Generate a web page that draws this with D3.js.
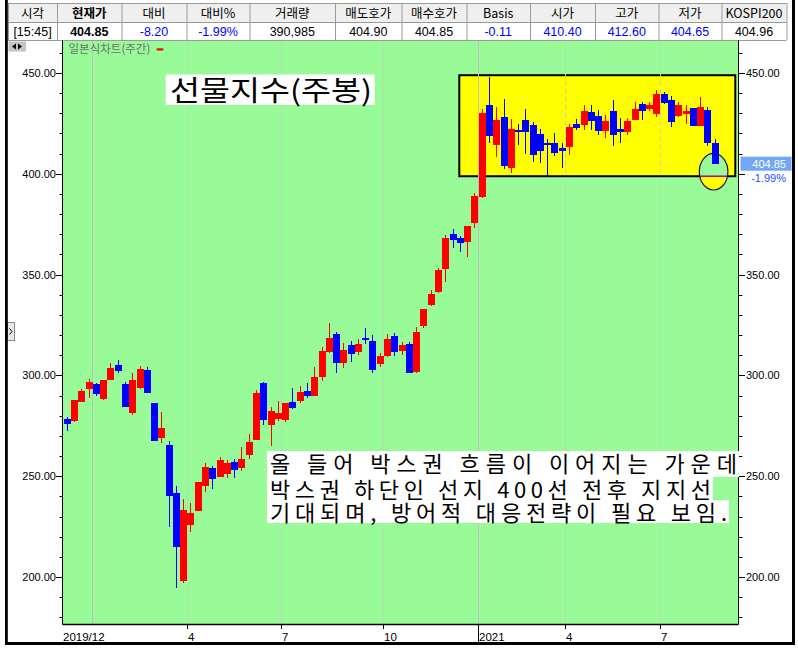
<!DOCTYPE html>
<html><head><meta charset="utf-8">
<script src="https://cdn.jsdelivr.net/npm/d3@7"></script>
<style>body{margin:0;background:#fff}svg{display:block}</style>
</head><body><svg id="c" width="798" height="650"></svg>
<script>
// ---- data ----
const dates = [
"2019-12-02","2019-12-09","2019-12-16","2019-12-23","2019-12-30",
"2020-01-06","2020-01-13","2020-01-20","2020-01-27","2020-02-03","2020-02-10","2020-02-17","2020-02-24",
"2020-03-02","2020-03-09","2020-03-16","2020-03-23","2020-03-30","2020-04-06","2020-04-13","2020-04-20","2020-04-27",
"2020-05-04","2020-05-11","2020-05-18","2020-05-25","2020-06-01","2020-06-08","2020-06-15","2020-06-22","2020-06-29",
"2020-07-06","2020-07-13","2020-07-20","2020-07-27","2020-08-03","2020-08-10","2020-08-17","2020-08-24","2020-08-31",
"2020-09-07","2020-09-14","2020-09-21","2020-09-28","2020-10-05","2020-10-12","2020-10-19","2020-10-26","2020-11-02",
"2020-11-09","2020-11-16","2020-11-23","2020-11-30","2020-12-07","2020-12-14","2020-12-21","2020-12-28",
"2021-01-04","2021-01-11","2021-01-18","2021-01-25","2021-02-01","2021-02-08","2021-02-15","2021-02-22",
"2021-03-01","2021-03-08","2021-03-15","2021-03-22","2021-03-29","2021-04-05","2021-04-12","2021-04-19","2021-04-26",
"2021-05-03","2021-05-10","2021-05-17","2021-05-24","2021-05-31","2021-06-07","2021-06-14","2021-06-21","2021-06-28",
"2021-07-05","2021-07-12","2021-07-19","2021-07-26","2021-08-02","2021-08-09","2021-08-16"];
const open = [278.4,277.4,287.0,293.4,295.7,288.3,297.7,305.2,295.7,281.5,
 293.9,302.7,286.3,269.0,265.5,241.7,198.0,226.0,232.9,245.3,
 253.9,249.8,251.1,257.0,254.1,260.5,268.0,296.2,275.6,278.5,
 277.9,286.8,287.5,292.3,289.8,299.2,311.6,320.5,306.1,315.1,
 311.6,318.5,317.1,305.7,309.6,319.5,312.1,315.6,301.7,324.5,
 334.9,341.4,352.9,370.1,368.1,366.2,375.8,388.6,434.1,414.4,
 428.2,403.0,421.7,426.7,424.2,419.7,415.3,415.3,412.8,413.4,
 424.7,424.4,430.6,428.7,421.2,431.1,422.2,420.7,426.7,434.8,
 432.1,429.7,439.6,436.8,428.8,429.7,432.8,423.7,431.6,415.3];
const high = [279.5,287.8,293.3,298.2,296.4,297.7,306.2,307.6,296.7,301.2,
 304.7,304.0,286.3,281.8,267.3,245.1,238.7,236.7,247.1,256.5,
 255.1,259.5,258.0,258.5,264.5,270.9,292.8,296.7,284.3,287.3,
 286.3,293.7,294.7,296.2,304.2,314.1,326.0,321.5,316.1,317.1,
 318.1,323.5,320.0,311.1,320.5,321.0,316.6,316.6,324.0,332.9,
 342.4,353.3,369.6,372.6,369.1,374.1,390.5,432.1,448.0,433.1,
 437.1,427.2,424.7,432.1,425.7,422.2,417.3,420.2,415.3,424.7,
 427.2,434.1,434.1,431.6,429.0,436.6,427.7,427.7,435.6,435.6,
 435.6,441.6,440.6,438.6,435.6,434.1,432.8,438.1,433.1,417.3];
const low = [272.6,276.9,287.0,289.0,289.9,287.8,297.7,301.4,284.5,280.5,
 293.3,291.4,267.6,266.3,225.0,194.7,197.2,222.5,232.9,242.3,
 243.8,249.8,249.3,249.3,252.6,258.5,268.0,275.4,265.1,277.5,
 276.9,283.3,286.5,288.8,289.8,297.2,311.1,301.2,303.7,306.6,
 310.1,315.6,301.2,304.2,309.1,309.6,310.1,301.2,301.2,323.5,
 334.4,340.7,346.5,363.3,361.3,358.9,373.3,388.2,415.4,408.5,
 402.5,400.6,414.4,409.8,406.0,405.5,398.6,409.0,403.0,409.5,
 421.7,421.7,421.7,419.0,418.0,413.8,415.3,419.2,426.7,426.7,
 431.1,428.3,434.6,423.2,428.3,424.7,423.7,423.7,413.8,404.65];
const close = [276.1,287.8,292.3,296.7,290.9,297.7,303.7,302.4,284.5,297.7,
 303.2,291.4,267.6,273.9,240.3,215.0,233.2,231.7,247.1,254.4,
 248.8,258.0,256.5,253.2,258.5,267.0,291.3,277.9,282.3,281.4,
 286.3,283.8,291.8,289.8,299.2,312.1,318.5,306.1,312.6,310.6,
 315.6,318.0,302.7,309.6,318.1,311.6,315.1,301.2,321.5,332.9,
 340.4,352.3,368.1,367.2,365.8,374.1,389.0,430.1,418.9,426.7,
 404.0,422.2,420.9,420.9,409.5,411.5,414.4,410.5,411.5,423.2,
 422.7,431.1,426.2,421.2,426.2,419.3,420.7,426.2,432.1,431.1,
 434.1,439.6,435.1,425.7,434.1,431.1,423.7,433.1,415.4,404.85];

const gridDates = ["2019-12-30","2020-03-30","2020-06-29","2020-10-05","2021-01-04","2021-03-29","2021-06-28"];
const gridSolid = [true,false,false,false,true,false,false];
const xTickDates = ["2019-12-02","2020-03-30","2020-06-29","2020-10-05","2021-01-04","2021-03-29","2021-06-28"];
const xTickLabels = ["2019/12","4","7","10","2021","4","7"];
const yLabelTicks = [200,250,300,350,400,450];

const headLabels = ["시각","현재가","대비","대비%","거래량","매도호가","매수호가","Basis","시가","고가","저가","KOSPI200"];
const headValues = ["[15:45]","404.85","-8.20","-1.99%","390,985","404.90","404.85","-0.11","410.40","412.60","404.65","404.96"];
const headValueBlue = [false,false,true,true,false,false,false,true,true,true,true,false];

const titleText = "선물지수(주봉)";
const noteLines = ["올 들어 박스권 흐름이 이어지는 가운데","박스권 하단인 선지 400선 전후 지지선","기대되며, 방어적 대응전략이 필요 보임."];
const lastPrice = "404.85", lastPct = "-1.99%";
const boxRange = {hi:448.9, lo:398.8};

// ---- drawing ----
const svg = d3.select("#c");
const PL=62.5, PR=738.5, PT=40, PB=624;
const x = d3.scaleBand().domain(dates).range([63.06, 63.06+7.28*dates.length]).padding(0);
const y = d3.scaleLinear().domain([200,450]).range([577,73]);
const bw = x.bandwidth();
const cx = d => x(d)+bw/2;
const KR = "'Noto Sans CJK KR', 'Noto Sans', sans-serif";
const NUM = "'Liberation Sans', Arial, sans-serif";

svg.append("rect").attr("width",798).attr("height",650).attr("fill","#fff");

// header table
const cols=[8,57,121.5,186.5,249.5,335,401.5,466.5,530,595,658.5,721.5,786.5];
const hd = svg.append("g");
hd.append("rect").attr("x",8).attr("y",3).attr("width",778.5).attr("height",19).attr("fill","#efefef");
hd.append("rect").attr("x",8).attr("y",22).attr("width",778.5).attr("height",18).attr("fill","#fff");
[3,22,40].forEach(yy=>hd.append("line").attr("x1",8).attr("x2",786.5).attr("y1",yy+0.5).attr("y2",yy+0.5).attr("stroke","#9a9a9a"));
cols.forEach(cc=>hd.append("line").attr("x1",cc+0.5).attr("x2",cc+0.5).attr("y1",3).attr("y2",40).attr("stroke","#9a9a9a"));
headLabels.forEach((t,i)=>{
  hd.append("text").attr("x",(cols[i]+cols[i+1])/2).attr("y",17.5).attr("text-anchor","middle")
   .attr("font-family",KR).attr("font-size",12.5).attr("font-weight",i===1?"bold":"normal").attr("fill","#000").text(t);
  hd.append("text").attr("x",(cols[i]+cols[i+1])/2).attr("y",36).attr("text-anchor","middle")
   .attr("font-family",NUM).attr("font-size",12.5).attr("font-weight",i===1?"bold":"normal")
   .attr("fill",headValueBlue[i]?"#0000ff":"#000").text(headValues[i]);
});

// plot background
svg.append("rect").attr("x",PL).attr("y",PT+1).attr("width",PR-PL).attr("height",PB-PT-1).attr("fill","#98fb98");

// yellow box
svg.append("rect").attr("x",459.3).attr("y",y(boxRange.hi)).attr("width",735.3-459.3).attr("height",y(boxRange.lo)-y(boxRange.hi))
  .attr("fill","#ffff00").attr("stroke","#000").attr("stroke-width",2);

// ellipse
const ecx = cx(dates[dates.length-1])-1, ecy=171.7, erx=14.3, ery=18.3, ecut=y(boxRange.lo);
const defs = svg.append("defs");
defs.append("clipPath").attr("id","eTop").append("rect").attr("x",ecx-20).attr("y",ecy-25).attr("width",40).attr("height",ecut-(ecy-25));
defs.append("clipPath").attr("id","eBot").append("rect").attr("x",ecx-20).attr("y",ecut).attr("width",40).attr("height",40);
defs.append("clipPath").attr("id","plot").append("rect").attr("x",PL).attr("y",PT+1).attr("width",PR-PL).attr("height",PB-PT-1);
svg.append("ellipse").attr("cx",ecx).attr("cy",ecy).attr("rx",erx).attr("ry",ery).attr("fill","#98fb98").attr("clip-path","url(#eTop)");
svg.append("ellipse").attr("cx",ecx).attr("cy",ecy).attr("rx",erx).attr("ry",ery).attr("fill","#ffff00").attr("clip-path","url(#eBot)");
svg.append("line").attr("x1",ecx-erx+1).attr("x2",ecx+erx-1).attr("y1",ecut).attr("y2",ecut).attr("stroke","#b000b0").attr("stroke-width",1.5);
svg.append("ellipse").attr("cx",ecx).attr("cy",ecy).attr("rx",erx).attr("ry",ery).attr("fill","none").attr("stroke","#2a1040").attr("stroke-width",1.2);

// gridlines
gridDates.forEach((d,i)=>{
  const gx = Math.round(x(d))+0.5;
  svg.append("line").attr("x1",gx).attr("x2",gx).attr("y1",PT+1).attr("y2",PB)
    .attr("stroke",gridSolid[i]?"#c0c0c0":"#c8c8c8").attr("stroke-width",1)
    .attr("stroke-dasharray",gridSolid[i]?null:"4,4");
});

// candles
const cg = svg.append("g").attr("clip-path","url(#plot)").attr("shape-rendering","crispEdges");
dates.forEach((d,i)=>{
  const up = close[i]>=open[i];
  const col = up?"#ff0000":"#0000ff";
  const c = Math.round(cx(d));
  cg.append("rect").attr("x",c).attr("y",y(high[i])).attr("width",1).attr("height",Math.max(1,y(low[i])-y(high[i]))).attr("fill",col);
  const top = y(Math.max(open[i],close[i])), bot = y(Math.min(open[i],close[i]));
  cg.append("rect").attr("x",c-3).attr("y",top).attr("width",6.5).attr("height",Math.max(1.5,bot-top)).attr("fill",col);
});

// axes frame
svg.append("line").attr("x1",PL).attr("x2",PL).attr("y1",PT).attr("y2",PB+0.5).attr("stroke","#000");
svg.append("line").attr("x1",PR).attr("x2",PR).attr("y1",PT).attr("y2",PB+0.5).attr("stroke","#000");
svg.append("line").attr("x1",PL).attr("x2",PR).attr("y1",PB+0.5).attr("y2",PB+0.5).attr("stroke","#000").attr("stroke-width",1.5);

// y ticks
d3.range(180,470,10).forEach(v=>{
  const yy = Math.round(y(v))+0.5;
  if (yy<PT+3||yy>PB-2) return;
  const major = v%50===0;
  svg.append("line").attr("x1",major?56:59.5).attr("x2",PL).attr("y1",yy).attr("y2",yy).attr("stroke","#000");
  svg.append("line").attr("x1",PR).attr("x2",major?745:742.5).attr("y1",yy).attr("y2",yy).attr("stroke","#000");
});
yLabelTicks.forEach(v=>{
  const yy=y(v)+4;
  svg.append("text").attr("x",56).attr("y",yy).attr("text-anchor","end").attr("font-family",NUM).attr("font-size",11).attr("fill","#000").text(d3.format(".2f")(v));
  if (v!==400) // right-side 400.00 is covered by the last-price tag
    svg.append("text").attr("x",746).attr("y",yy).attr("font-family",NUM).attr("font-size",11).attr("fill","#000").text(d3.format(".2f")(v));
});

// x ticks
xTickDates.forEach((d,i)=>{
  const gx = i===0 ? 63 : Math.round(x(d))+0.5;
  if(i>0) svg.append("line").attr("x1",gx).attr("x2",gx).attr("y1",PB).attr("y2",gridSolid[i]?645:629).attr("stroke","#000");
  svg.append("text").attr("x",gx+(i===0?0:0.5)).attr("y",641).attr("font-family",NUM).attr("font-size",11.5).attr("fill","#000").text(xTickLabels[i]);
});

// last price label
svg.append("rect").attr("x",740.5).attr("y",156.7).attr("width",51).attr("height",14).attr("fill","#73a6f4");
svg.append("text").attr("x",786).attr("y",168).attr("text-anchor","end").attr("font-family",NUM).attr("font-size",11).attr("fill","#fff").text(lastPrice);
svg.append("text").attr("x",786).attr("y",182).attr("text-anchor","end").attr("font-family",NUM).attr("font-size",11).attr("fill","#1e50ff").text(lastPct);

// chart label
svg.append("text").attr("x",68.5).attr("y",52.5).attr("font-family",KR).attr("font-size",11.5).attr("fill","#6e6e6e").text("일본식차트(주간)");
svg.append("rect").attr("x",156.7).attr("y",48.3).attr("width",6.6).attr("height",2.2).attr("fill","#ff0000");

// top-left icon box
svg.append("rect").attr("x",8.5).attr("y",41.5).attr("width",17.5).attr("height",10).attr("fill","#c4c4c4");
svg.append("path").attr("d","M12,46.5 L16,43.5 L16,49.5 Z M22,46.5 L18,43.5 L18,49.5 Z").attr("fill","#000");
// left side tab
svg.append("rect").attr("x",7.5).attr("y",322.5).attr("width",7).attr("height",18).attr("fill","#e8e8e8").attr("stroke","#888");
svg.append("path").attr("d","M9.5,328.5 L12,331.5 L9.5,334.5").attr("fill","none").attr("stroke","#000");

// title box
svg.append("rect").attr("x",165.7).attr("y",74.5).attr("width",209).attr("height",30.5).attr("fill","#fff");
svg.append("text").attr("x",170).attr("y",101).attr("font-family",KR).attr("font-size",28).attr("fill","#000")
  .attr("textLength",202).attr("lengthAdjust","spacingAndGlyphs").text(titleText);

// note box
const noteW=[472,446,462], noteTop=[451,477,500];
noteLines.forEach((t,i)=>{
  svg.append("rect").attr("x",267).attr("y",noteTop[i]).attr("width",noteW[i]).attr("height",i===2?23:(noteTop[i+1]-noteTop[i])).attr("fill","#fff");
  svg.append("text").attr("x",270).attr("y",noteTop[i]+20.5).attr("font-family",KR).attr("font-size",22).attr("fill","#000")
    .attr("textLength",noteW[i]-5).attr("lengthAdjust","spacing").text(t);
});

// outer frame
svg.append("rect").attr("x",5).attr("y",0).attr("width",2.8).attr("height",645).attr("fill","#000");
svg.append("rect").attr("x",5).attr("y",642).attr("width",790).attr("height",3).attr("fill","#000");
svg.append("rect").attr("x",792).attr("y",0).attr("width",3).attr("height",645).attr("fill","#000");
</script></body></html>
